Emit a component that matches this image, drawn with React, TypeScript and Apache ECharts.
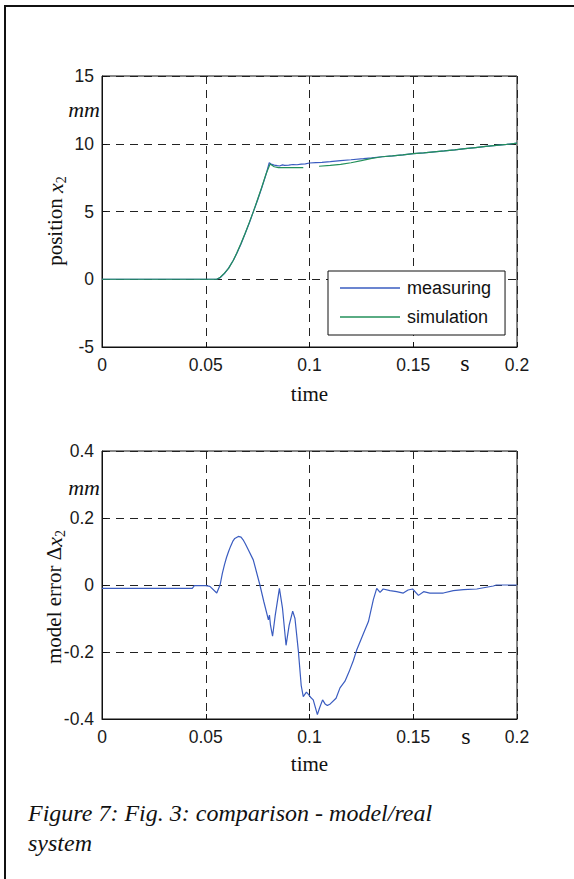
import React, { useEffect, useRef } from "react";
import * as echarts from "echarts";

// ---- data ----
const xTicks = [0, 0.05, 0.1, 0.15, 0.2];
const posTicks = [-5, 0, 5, 10, 15];
const errTicks = [-0.4, -0.2, 0, 0.2, 0.4];

const measTime = [
  0, 0.0553, 0.057, 0.059, 0.061, 0.0633, 0.065, 0.067, 0.069, 0.071, 0.0729, 0.075, 0.077, 0.079,
  0.0806, 0.0815, 0.083, 0.0845, 0.0855, 0.087, 0.088, 0.09, 0.092, 0.094, 0.096, 0.098, 0.1,
  0.103, 0.106, 0.11, 0.115, 0.12, 0.126, 0.13, 0.135, 0.14, 0.145, 0.15, 0.155, 0.16, 0.165,
  0.17, 0.175, 0.18, 0.185, 0.19, 0.195, 0.2,
];
const measPos = [
  0, 0, 0.12, 0.42, 0.82, 1.4, 1.92, 2.6, 3.38, 4.15, 4.97, 5.85, 6.75, 7.7,
  8.6, 8.5, 8.42, 8.38, 8.36, 8.44, 8.4, 8.42, 8.47, 8.45, 8.5, 8.52, 8.58,
  8.6, 8.62, 8.68, 8.76, 8.82, 8.9, 8.96, 9.04, 9.1, 9.18, 9.27, 9.33, 9.4, 9.47,
  9.55, 9.64, 9.72, 9.8, 9.88, 9.95, 10.05,
];

const simTime = [
  0, 0.0553, 0.057, 0.059, 0.061, 0.0633, 0.065, 0.067, 0.069, 0.071, 0.0729, 0.075, 0.077, 0.079,
  0.081, 0.083, 0.085, 0.09, 0.097, 0.1, 0.1046, 0.11, 0.115, 0.12, 0.125, 0.13, 0.135, 0.14,
  0.145, 0.15, 0.155, 0.16, 0.165, 0.17, 0.175, 0.18, 0.185, 0.19, 0.195, 0.2,
];
const simPos: (number | null)[] = [
  0, 0, 0.15, 0.45, 0.8, 1.4, 1.95, 2.65, 3.4, 4.2, 4.97, 5.9, 6.8, 7.75,
  8.5, 8.3, 8.24, 8.24, 8.24, null, 8.34, 8.4, 8.48, 8.6, 8.75, 8.92, 9.04, 9.1,
  9.18, 9.27, 9.33, 9.4, 9.47, 9.55, 9.64, 9.72, 9.8, 9.88, 9.95, 10.05,
];

const errTime = [
  0, 0.0435, 0.0445, 0.05, 0.052, 0.0553, 0.0569, 0.058, 0.059, 0.06, 0.061, 0.062, 0.063, 0.064,
  0.0657, 0.067, 0.068, 0.069, 0.0705, 0.0729, 0.0761, 0.078, 0.0802, 0.0807, 0.0812, 0.0822,
  0.0835, 0.0855, 0.087, 0.0887, 0.0902, 0.0919, 0.093, 0.0946, 0.096, 0.097, 0.0985, 0.0994,
  0.1005, 0.1018, 0.1038, 0.1048, 0.1063, 0.1075, 0.1086, 0.11, 0.1128, 0.1147, 0.1171, 0.119,
  0.1211, 0.1227, 0.126, 0.1284, 0.1308, 0.1324, 0.134, 0.1355, 0.1388, 0.142, 0.1452, 0.1475,
  0.1497, 0.1525, 0.155, 0.158, 0.1645, 0.1693, 0.1742, 0.1806, 0.1886, 0.19, 0.2,
];
const errVal = [
  -0.01, -0.01, -0.002, -0.002, -0.004, -0.024, 0, 0.035, 0.06, 0.082, 0.1, 0.116, 0.13, 0.139,
  0.145, 0.143, 0.135, 0.124, 0.105, 0.075, 0, -0.05, -0.104, -0.09, -0.12, -0.153,
  -0.09, -0.01, -0.07, -0.18, -0.12, -0.078, -0.1, -0.195, -0.3, -0.333, -0.32, -0.326,
  -0.335, -0.343, -0.387, -0.368, -0.343, -0.355, -0.36, -0.355, -0.338, -0.307, -0.287, -0.26,
  -0.226, -0.195, -0.145, -0.109, -0.043, -0.01, -0.022, -0.012, -0.017, -0.02, -0.024, -0.015,
  -0.012, -0.031, -0.02, -0.024, -0.024, -0.017, -0.014, -0.012, -0.003, 0, 0,
];

const BLUE = "#3a5cc0";
const GREEN = "#23905a";
const SANS = "Liberation Sans, Arial, sans-serif";
const SERIF = "Liberation Serif, Times New Roman, serif";

const pairs = (xs: number[], ys: (number | null)[]) => xs.map((x, i) => [x, ys[i]]);

const fmt = (v: number) => String(Number(v.toFixed(2)));

function xAxisCfg(gridIndex: number, nameGap: number) {
  return {
    type: "value",
    gridIndex,
    min: xTicks[0],
    max: xTicks[xTicks.length - 1],
    interval: xTicks[1] - xTicks[0],
    name: "time",
    nameLocation: "middle",
    nameGap,
    nameTextStyle: { fontFamily: SERIF, fontSize: 21, color: "#111" },
    axisLine: { show: true, onZero: false, lineStyle: { color: "#111", width: 1 } },
    axisTick: { show: true, inside: true, length: 5, lineStyle: { color: "#111" } },
    axisLabel: { fontFamily: SANS, fontSize: 17.5, color: "#1a1a1a", margin: 9, formatter: fmt },
    splitLine: { show: true, lineStyle: { color: "#222", type: [8, 6], width: 1 } },
  };
}

function yAxisCfg(gridIndex: number, ticks: number[]) {
  return {
    type: "value",
    gridIndex,
    min: ticks[0],
    max: ticks[ticks.length - 1],
    interval: ticks[1] - ticks[0],
    axisLine: { show: true, onZero: false, lineStyle: { color: "#111", width: 1 } },
    axisTick: { show: true, inside: true, length: 5, lineStyle: { color: "#111" } },
    axisLabel: { fontFamily: SANS, fontSize: 17.5, color: "#1a1a1a", margin: 8, formatter: fmt },
    splitLine: { show: true, lineStyle: { color: "#222", type: [8, 6], width: 1 } },
  };
}

const richName = {
  n: { fontFamily: SERIF, fontSize: 21, color: "#111", lineHeight: 26, verticalAlign: "middle" },
  i: { fontFamily: SERIF, fontSize: 22, fontStyle: "italic", color: "#111", lineHeight: 26, verticalAlign: "middle" },
  s: { fontFamily: SERIF, fontSize: 14, color: "#111", lineHeight: 26, verticalAlign: "bottom" },
};

export default function App() {
  const ref = useRef<HTMLDivElement>(null);
  useEffect(() => {
    if (!ref.current) return;
    const chart = echarts.init(ref.current, undefined, { renderer: "svg" });
    const unitText = (x: number, y: number, text: string, italic: boolean, size: number, align: string) => ({
      type: "text",
      x,
      y,
      style: {
        text,
        fontFamily: SERIF,
        fontSize: size,
        fontStyle: italic ? "italic" : "normal",
        fill: "#111",
        align,
        verticalAlign: "middle",
      },
    });
    const yName = (x: number, y: number, text: string) => ({
      type: "text",
      x,
      y,
      rotation: Math.PI / 2,
      style: {
        text,
        rich: richName,
        fill: "#111",
        align: "center",
        verticalAlign: "middle",
      },
    });
    chart.setOption({
      animation: false,
      backgroundColor: "#fff",
      grid: [
        { left: 102, top: 76, width: 415, height: 271, show: true, borderColor: "#111", borderWidth: 1, backgroundColor: "transparent" },
        { left: 102, top: 451, width: 415, height: 268, show: true, borderColor: "#111", borderWidth: 1, backgroundColor: "transparent" },
      ],
      xAxis: [xAxisCfg(0, 36), xAxisCfg(1, 34)],
      yAxis: [yAxisCfg(0, posTicks), yAxisCfg(1, errTicks)],
      legend: {
        left: 328,
        top: 271,
        width: 175,
        orient: "vertical",
        data: ["measuring", "simulation"],
        icon: "rect",
        padding: [8, 14, 9, 12],
        itemWidth: 60,
        itemHeight: 1.5,
        itemGap: 11,
        borderColor: "#111",
        borderWidth: 1,
        borderRadius: 0,
        backgroundColor: "#fff",
        textStyle: { fontFamily: SANS, fontSize: 18, color: "#111", padding: [0, 0, 0, 2] },
      },
      series: [
        {
          name: "measuring",
          type: "line",
          xAxisIndex: 0,
          yAxisIndex: 0,
          data: pairs(measTime, measPos),
          showSymbol: false,
          symbol: "none",
          color: BLUE,
          lineStyle: { color: BLUE, width: 1.2 },
        },
        {
          name: "simulation",
          type: "line",
          xAxisIndex: 0,
          yAxisIndex: 0,
          data: pairs(simTime, simPos),
          showSymbol: false,
          symbol: "none",
          connectNulls: false,
          color: GREEN,
          lineStyle: { color: GREEN, width: 1.2 },
        },
        {
          name: "model error",
          type: "line",
          xAxisIndex: 1,
          yAxisIndex: 1,
          data: pairs(errTime, errVal),
          showSymbol: false,
          symbol: "none",
          color: BLUE,
          lineStyle: { color: BLUE, width: 1.2 },
        },
      ],
      graphic: [
        { type: "line", shape: { x1: 5, y1: 6, x2: 574, y2: 6 }, style: { stroke: "#111", lineWidth: 2 } },
        { type: "line", shape: { x1: 5, y1: 5, x2: 5, y2: 879 }, style: { stroke: "#111", lineWidth: 2 } },
        yName(55, 221, "{n|position }{i|x}{s|2}"),
        yName(54, 597, "{n|model error Δ}{i|x}{s|2}"),
        unitText(100, 109, "mm", true, 22, "right"),
        unitText(100, 487, "mm", true, 22, "right"),
        unitText(465, 363, "s", false, 24, "center"),
        unitText(466, 736, "s", false, 24, "center"),
        {
          type: "text",
          x: 28,
          y: 813,
          style: {
            text: "Figure 7: Fig. 3: comparison - model/real",
            fontFamily: SERIF,
            fontSize: 24,
            fontStyle: "italic",
            fill: "#111",
            verticalAlign: "middle",
          },
        },
        {
          type: "text",
          x: 28,
          y: 843,
          style: {
            text: "system",
            fontFamily: SERIF,
            fontSize: 24,
            fontStyle: "italic",
            fill: "#111",
            verticalAlign: "middle",
          },
        },
      ],
    });
    return () => chart.dispose();
  }, []);
  return (
    <div
      ref={ref}
      style={{ position: "absolute", left: 0, top: 0, width: 574, height: 879, background: "#fff" }}
    />
  );
}
